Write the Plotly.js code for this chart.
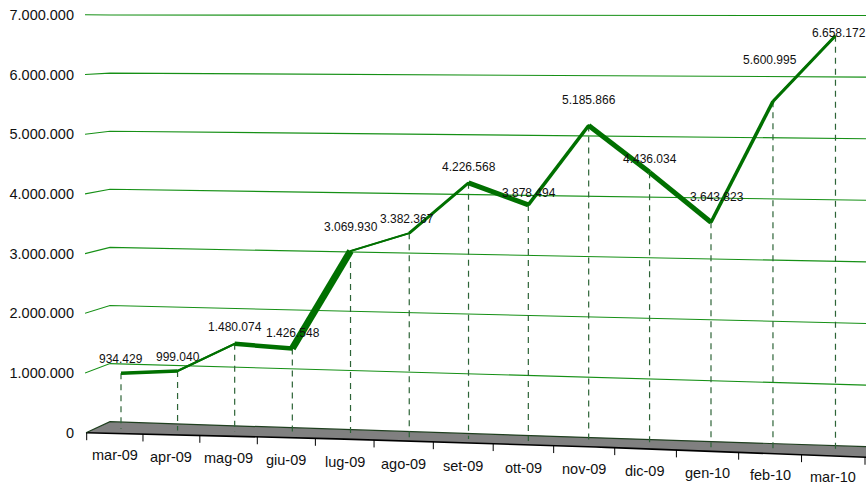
<!DOCTYPE html>
<html><head><meta charset="utf-8">
<script src="https://cdn.plot.ly/plotly-3.0.1.min.js"></script>
<style>html,body{margin:0;padding:0;background:#fff;}#chart{width:866px;height:487px;}</style>
</head><body><div id="chart"></div>
<script>
// ---- data ----
const months = ['mar-09','apr-09','mag-09','giu-09','lug-09','ago-09','set-09','ott-09','nov-09','dic-09','gen-10','feb-10','mar-10'];
const values = [934429, 999040, 1480074, 1426548, 3069930, 3382367, 4226568, 3878494, 5185866, 4436034, 3643823, 5600995, 6658172];
const yTicks = [0, 1000000, 2000000, 3000000, 4000000, 5000000, 6000000, 7000000];
const yTickText = ['0', '1.000.000', '2.000.000', '3.000.000', '4.000.000', '5.000.000', '6.000.000', '7.000.000'];

// ---- style ----
const segWidths = [3.5, 2, 4.5, 7, 1.5, 3, 5, 3.5, 5, 5, 3.5, 3];
const labelShift = [14, 14, 17, 15.5, 24, 14, 16, 12, 25.5, 13, 25, 41, 3];
const labelDx = [0, 0, 0, 1, 0, -2, 0, 1, 0, 0, 6, -3, 4];
const FONT = 'Liberation Sans, Arial, sans-serif';
const GREEN = '#007000';

// ---- pseudo-3D projection of the box ----
const PXM = 59.7, Y0 = 432.7;
function toAxis(py) { return (Y0 - py) / PXM * 1e6; }
function backX(i) { return 121 + 56.3 * i + 0.27 * i * i; }
function frontX(k) { return 86.7 + 55.97 * k + 0.3 * k * k; }
function planeY(x, v) { const m = v / 1e6, t = (x - 110) / 756; return 421.7 - 58.1 * m + t * (25 - 3.5 * m); }
function dataY(x, v) { const m = v / 1e6; return planeY(x, v) + 6.5 - 1.1 * m; }
function frontEdgeY(x) { const d = x - 86; return 432.7 + 0.02139 * d + 1.3e-5 * d * d; }
function backEdgeY(x) { return planeY(x, 0); }
function fmt(v) { return String(v).replace(/\B(?=(\d{3})+(?!\d))/g, '.'); }

const traces = [];
// floor
const fx = [], fy = [];
fx.push(86); fy.push(toAxis(432.7));
fx.push(110); fy.push(toAxis(backEdgeY(110)));
fx.push(866); fy.push(toAxis(backEdgeY(866)));
const frX = [], frY = [];
for (let x = 866; x >= 86; x -= 10) { frX.push(x); frY.push(toAxis(frontEdgeY(x))); }
if (frX[frX.length - 1] !== 86) { frX.push(86); frY.push(toAxis(frontEdgeY(86))); }
traces.push({x: fx.concat(frX), y: fy.concat(frY), mode: 'lines', fill: 'toself', fillcolor: '#808080', line: {width: 0}, hoverinfo: 'skip'});
traces.push({x: frX, y: frY, mode: 'lines', line: {color: '#000', width: 1.6}, hoverinfo: 'skip'});
traces.push({x: [86, 110, 866], y: [toAxis(432.7), toAxis(backEdgeY(110)), toAxis(backEdgeY(866))], mode: 'lines', line: {color: '#1f3f1f', width: 1.2}, hoverinfo: 'skip'});

// gridlines (wall fold + back plane)
yTicks.forEach(v => {
  if (v === 0) return;
  traces.push({x: [85, 110, 866], y: [v, toAxis(planeY(110, v)), toAxis(planeY(866, v))], mode: 'lines', line: {color: '#169016', width: 1.1}, hoverinfo: 'skip'});
});

// x ticks on the front edge
const tx = [], ty = [];
for (let k = 0; k <= months.length; k++) {
  const x = frontX(k);
  tx.push(x, x, null); ty.push(toAxis(frontEdgeY(x)), toAxis(frontEdgeY(x) + 7.5), null);
}
traces.push({x: tx, y: ty, mode: 'lines', line: {color: '#000', width: 1}, hoverinfo: 'skip'});

// drop lines
const dx = [], dy = [];
values.forEach((v, i) => {
  const x = backX(i);
  const end = backEdgeY(x) + 0.6 * (frontEdgeY(x) - backEdgeY(x));
  dx.push(x, x, null); dy.push(toAxis(dataY(x, v)), toAxis(end), null);
});
traces.push({x: dx, y: dy, mode: 'lines', line: {color: 'rgb(45,100,55)', width: 1.2, dash: '6px,5px'}, hoverinfo: 'skip'});

// ribbon line
const lx = values.map((v, i) => backX(i));
const ly = values.map((v, i) => toAxis(dataY(backX(i), v)));
traces.push({x: lx, y: ly, mode: 'lines', line: {color: GREEN, width: 2}, hoverinfo: 'skip'});
for (let i = 0; i < values.length - 1; i++) {
  traces.push({x: [lx[i], lx[i + 1]], y: [ly[i], ly[i + 1]], mode: 'lines', line: {color: GREEN, width: segWidths[i]}, hoverinfo: 'skip'});
}

const annotations = [];
values.forEach((v, i) => {
  annotations.push({x: lx[i] + labelDx[i], y: ly[i], yshift: labelShift[i], text: fmt(v), showarrow: false,
    xanchor: 'center', yanchor: 'middle', font: {family: FONT, size: 12, color: '#111'}});
});
months.forEach((m, i) => {
  const x = frontX(i + 0.5);
  annotations.push({x: x, y: toAxis(455 + 0.0306 * (x - 115)), text: m, showarrow: false,
    xanchor: 'center', yanchor: 'middle', font: {family: FONT, size: 14.5, color: '#111'}});
});

const layout = {
  width: 866, height: 487,
  margin: {l: 85, r: 0, t: 0, b: 0},
  paper_bgcolor: '#fff', plot_bgcolor: '#fff',
  showlegend: false, hovermode: false,
  xaxis: {range: [85, 866], visible: false, fixedrange: true},
  yaxis: {range: [toAxis(487), toAxis(0)], tickvals: yTicks, ticktext: yTickText, showgrid: false, zeroline: false,
    showline: false, ticks: '', ticklabelstandoff: 10, tickfont: {family: FONT, size: 14.5, color: '#111'}, fixedrange: true},
  annotations: annotations
};
Plotly.newPlot('chart', traces, layout, {displayModeBar: false, staticPlot: true});
</script>
</body></html>
